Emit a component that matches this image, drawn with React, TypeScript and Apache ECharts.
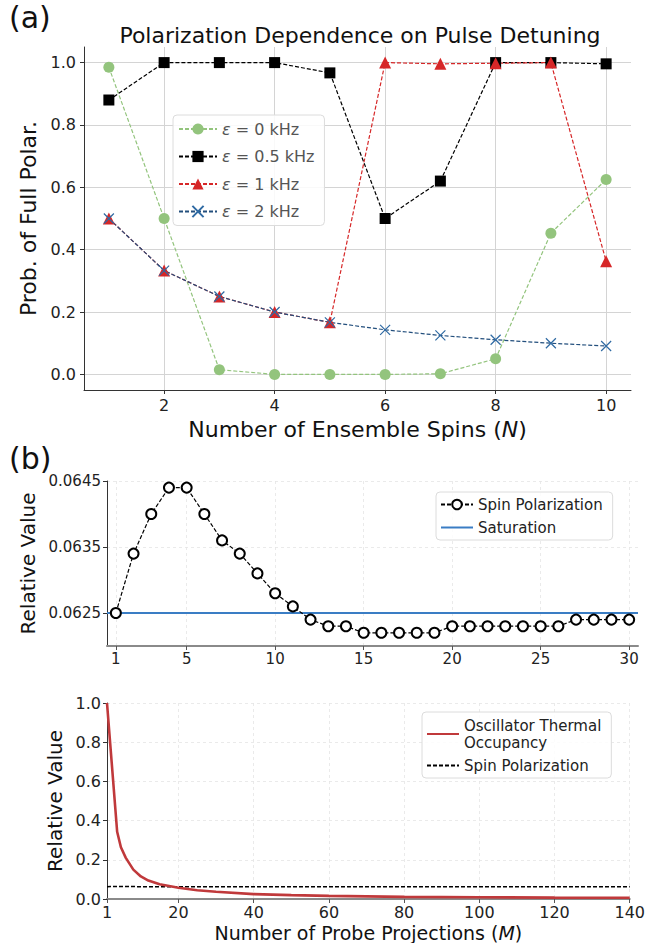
import React, { useEffect, useRef } from "react";
import * as echarts from "echarts";

// ---------- (a) data ----------
const spinsN = [1, 2, 3, 4, 5, 6, 7, 8, 9, 10];
const eps0 = [0.985, 0.5, 0.015, 0.0, 0.0, 0.0, 0.002, 0.05, 0.453, 0.625];
const eps05 = [0.88, 1.0, 1.0, 1.0, 0.967, 0.5, 0.62, 1.0, 1.0, 0.996];
const eps1 = [0.5, 0.333, 0.25, 0.2, 0.167, 1.0, 0.996, 0.998, 1.0, 0.363];
const eps2 = [0.5, 0.333, 0.25, 0.2, 0.167, 0.143, 0.125, 0.111, 0.1, 0.091];
const topXTicks = [2, 4, 6, 8, 10];
const topYTicks = [0, 0.2, 0.4, 0.6, 0.8, 1.0];
const topNames = ["ε = 0 kHz", "ε = 0.5 kHz", "ε = 1 kHz", "ε = 2 kHz"];

// ---------- (b) upper data ----------
const projM = [1, 2, 3, 4, 5, 6, 7, 8, 9, 10, 11, 12, 13, 14, 15, 16, 17, 18, 19, 20, 21, 22, 23, 24, 25, 26, 27, 28, 29, 30];
const spinPol = [
  0.0625, 0.0634, 0.064, 0.0644, 0.0644, 0.064, 0.0636, 0.0634, 0.0631, 0.0628,
  0.0626, 0.0624, 0.0623, 0.0623, 0.0622, 0.0622, 0.0622, 0.0622, 0.0622, 0.0623,
  0.0623, 0.0623, 0.0623, 0.0623, 0.0623, 0.0623, 0.0624, 0.0624, 0.0624, 0.0624,
];
const saturation = 0.0625;
const midXRange = [0.5, 30.5];
const midYRange = [0.062, 0.0645];
const midXTicks = [1, 5, 10, 15, 20, 25, 30];
const midYTicks = [0.0625, 0.0635, 0.0645];

// ---------- (b) lower data ----------
const occM = [1, 3.7, 4.7, 6, 8, 10, 12, 15, 20, 25, 30, 40, 50, 60, 80, 100, 120, 140];
const occVal = [1.0, 0.343, 0.264, 0.21, 0.15, 0.115, 0.094, 0.075, 0.057, 0.045, 0.037, 0.025, 0.02, 0.016, 0.011, 0.009, 0.007, 0.006];
const spinTailM = [60, 100, 140];
const spinTailVal = [0.0624, 0.0624, 0.0624];
const botXTicks = [1, 20, 40, 60, 80, 100, 120, 140];
const botYTicks = [0, 0.2, 0.4, 0.6, 0.8, 1.0];

const FONT = "DejaVu Sans";
const zip = (xs: number[], ys: number[]) => xs.map((x, i) => [x, ys[i]]);

export default function App() {
  const ref = useRef<HTMLDivElement>(null);
  useEffect(() => {
    if (!ref.current) return;
    const chart = echarts.init(ref.current, null, { renderer: "svg" });

    const solidGrid = { show: true, lineStyle: { color: "#d4d4d4", width: 1 } };
    const dashGrid = { show: true, lineStyle: { color: "#e4e4e4", width: 0.8, type: [3, 3] } };
    const darkLine = { show: true, onZero: false, lineStyle: { color: "#333", width: 1 } };
    const grayLine = { show: true, onZero: false, lineStyle: { color: "#8a8a8a", width: 2 } };
    const legendBox = {
      orient: "vertical",
      backgroundColor: "rgba(255,255,255,0.85)",
      borderColor: "#dcdcdc", borderWidth: 1, borderRadius: 4,
      selectedMode: false,
    };

    const option: any = {
      animation: false,
      backgroundColor: "#fff",
      textStyle: { fontFamily: FONT },
      graphic: [
        { type: "text", left: 9, top: 2, style: { text: "(a)", font: `30px '${FONT}'`, fill: "#111" } },
        { type: "text", left: 9, top: 443, style: { text: "(b)", font: `30px '${FONT}'`, fill: "#111" } },
        {
          type: "text",
          x: 360,
          y: 35,
          style: { text: "Polarization Dependence on Pulse Detuning", font: `22px '${FONT}'`, fill: "#111", textAlign: "center", textVerticalAlign: "middle" },
        },
      ],
      grid: [
        { left: 84, top: 47, width: 547, height: 343 },
        { left: 107, top: 481, width: 531, height: 165 },
        { left: 107, top: 703, width: 531, height: 196 },
      ],
      xAxis: [
        {
          type: "value", gridIndex: 0, min: 0.55, max: 10.45,
          axisLine: darkLine,
          axisTick: { show: true, customValues: topXTicks, length: 4, lineStyle: { color: "#333" } },
          axisLabel: { customValues: topXTicks, fontSize: 16, color: "#222", margin: 7, fontFamily: FONT },
          splitLine: solidGrid,
          name: "Number of Ensemble Spins ({i|N})",
          nameLocation: "middle", nameGap: 28,
          nameTextStyle: { fontSize: 22, color: "#111", fontFamily: FONT, rich: { i: { fontSize: 22, fontStyle: "italic", color: "#111", fontFamily: FONT } } },
        },
        {
          type: "value", gridIndex: 1, min: midXRange[0], max: midXRange[1],
          axisLine: grayLine,
          axisTick: { show: true, customValues: midXTicks, length: 4, lineStyle: { color: "#555" } },
          axisLabel: { customValues: midXTicks, fontSize: 15, color: "#222", margin: 5, fontFamily: FONT },
          splitLine: dashGrid,
        },
        {
          type: "value", gridIndex: 2, min: 1, max: 140,
          axisLine: grayLine,
          axisTick: { show: true, customValues: botXTicks, length: 4, lineStyle: { color: "#555" } },
          axisLabel: { customValues: botXTicks, fontSize: 16, color: "#222", margin: 5, fontFamily: FONT },
          splitLine: dashGrid,
          name: "Number of Probe Projections ({i|M})",
          nameLocation: "middle", nameGap: 24,
          nameTextStyle: { fontSize: 19, color: "#111", fontFamily: FONT, rich: { i: { fontSize: 19, fontStyle: "italic", color: "#111", fontFamily: FONT } } },
        },
      ],
      yAxis: [
        {
          type: "value", gridIndex: 0, min: -0.05, max: 1.05,
          axisLine: darkLine,
          axisTick: { show: true, customValues: topYTicks, length: 4, lineStyle: { color: "#333" } },
          axisLabel: { customValues: topYTicks, fontSize: 16, color: "#222", margin: 8, fontFamily: FONT, formatter: (v: number) => v.toFixed(1) },
          splitLine: solidGrid,
          name: "Prob. of Full Polar.",
          nameLocation: "middle", nameGap: 41,
          nameTextStyle: { fontSize: 22, color: "#111", fontFamily: FONT },
        },
        {
          type: "value", gridIndex: 1, min: midYRange[0], max: midYRange[1],
          axisLine: darkLine,
          axisTick: { show: true, customValues: midYTicks, length: 4, lineStyle: { color: "#333" } },
          axisLabel: { customValues: midYTicks, fontSize: 15, color: "#222", margin: 6, fontFamily: FONT, formatter: (v: number) => v.toFixed(4) },
          splitLine: dashGrid,
          name: "Relative Value",
          nameLocation: "middle", nameGap: 65,
          nameTextStyle: { fontSize: 20, color: "#111", fontFamily: FONT },
        },
        {
          type: "value", gridIndex: 2, min: 0, max: 1,
          axisLine: darkLine,
          axisTick: { show: true, customValues: botYTicks, length: 4, lineStyle: { color: "#333" } },
          axisLabel: { customValues: botYTicks, fontSize: 16, color: "#222", margin: 6, fontFamily: FONT, formatter: (v: number) => v.toFixed(1) },
          splitLine: dashGrid,
          name: "Relative Value",
          nameLocation: "middle", nameGap: 40,
          nameTextStyle: { fontSize: 20, color: "#111", fontFamily: FONT },
        },
      ],
      legend: [
        {
          ...legendBox,
          data: topNames,
          left: 173, top: 115,
          itemWidth: 38, itemHeight: 14, itemGap: 11.5,
          padding: [6, 10, 6, 5],
          formatter: (n: string) => n.replace("ε", "{i|ε}"),
          textStyle: { fontSize: 16, color: "#555", fontFamily: FONT, rich: { i: { fontSize: 16, fontStyle: "italic", color: "#555", fontFamily: FONT } } },
        },
        {
          ...legendBox,
          data: ["Spin Polarization", "Saturation"],
          left: 436, top: 492,
          itemWidth: 32, itemHeight: 12, itemGap: 8,
          padding: [5, 10, 5, 4],
          textStyle: { fontSize: 15, color: "#222", fontFamily: FONT },
        },
        {
          ...legendBox,
          data: ["Oscillator Thermal\nOccupancy", "Spin Polarization "],
          left: 422, top: 712,
          itemWidth: 32, itemHeight: 12, itemGap: 6,
          padding: [5, 10, 4, 4],
          formatter: (n: string) => n.trim(),
          textStyle: { fontSize: 15, color: "#222", fontFamily: FONT, lineHeight: 17 },
        },
      ],
      series: [
        {
          name: topNames[0], type: "line", xAxisIndex: 0, yAxisIndex: 0,
          data: zip(spinsN, eps0), symbol: "circle", symbolSize: 11,
          itemStyle: { color: "#93c47d" }, lineStyle: { color: "#93c47d", width: 1.2, type: [4, 2] },
        },
        {
          name: topNames[1], type: "line", xAxisIndex: 0, yAxisIndex: 0,
          data: zip(spinsN, eps05), symbol: "rect", symbolSize: 11,
          itemStyle: { color: "#000" }, lineStyle: { color: "#000", width: 1.2, type: [4, 2] },
        },
        {
          name: topNames[2], type: "line", xAxisIndex: 0, yAxisIndex: 0,
          data: zip(spinsN, eps1), symbol: "triangle", symbolSize: 12,
          itemStyle: { color: "#d62728" }, lineStyle: { color: "#d62728", width: 1.2, type: [4, 2] },
        },
        {
          name: topNames[3], type: "line", xAxisIndex: 0, yAxisIndex: 0,
          data: zip(spinsN, eps2), symbol: "path://M0,0L10,10M10,0L0,10", symbolSize: 10,
          itemStyle: { color: "rgba(0,0,0,0)", borderColor: "#2f6aa3", borderWidth: 1.2 },
          lineStyle: { color: "#234f7d", width: 1.2, type: [4, 2] },
        },
        {
          name: "Saturation", type: "line", xAxisIndex: 1, yAxisIndex: 1,
          data: [[midXRange[0], saturation], [midXRange[1], saturation]],
          symbol: "none", showSymbol: false, z: 2,
          itemStyle: { color: "#3a7dc4", opacity: 0 }, lineStyle: { color: "#3a7dc4", width: 2 },
        },
        {
          name: "Spin Polarization", type: "line", xAxisIndex: 1, yAxisIndex: 1,
          data: zip(projM, spinPol), symbol: "emptyCircle", symbolSize: 10, z: 3,
          itemStyle: { color: "#000", borderWidth: 2 },
          lineStyle: { color: "#000", width: 1.2, type: [4, 2] },
        },
        {
          name: "Oscillator Thermal\nOccupancy", type: "line", xAxisIndex: 2, yAxisIndex: 2,
          data: zip(occM, occVal), symbol: "none", showSymbol: false, z: 3,
          itemStyle: { color: "#c0393b", opacity: 0 }, lineStyle: { color: "#c0393b", width: 2.6 },
        },
        {
          name: "Spin Polarization ", type: "line", xAxisIndex: 2, yAxisIndex: 2,
          data: zip(projM.concat(spinTailM), spinPol.concat(spinTailVal)), symbol: "none", showSymbol: false, z: 2,
          itemStyle: { color: "#000", opacity: 0 }, lineStyle: { color: "#000", width: 1.5, type: [4, 2] },
        },
      ],
    };
    chart.setOption(option);
    return () => chart.dispose();
  }, []);
  return <div ref={ref} style={{ position: "absolute", left: 0, top: 0, width: 648, height: 943 }} />;
}
